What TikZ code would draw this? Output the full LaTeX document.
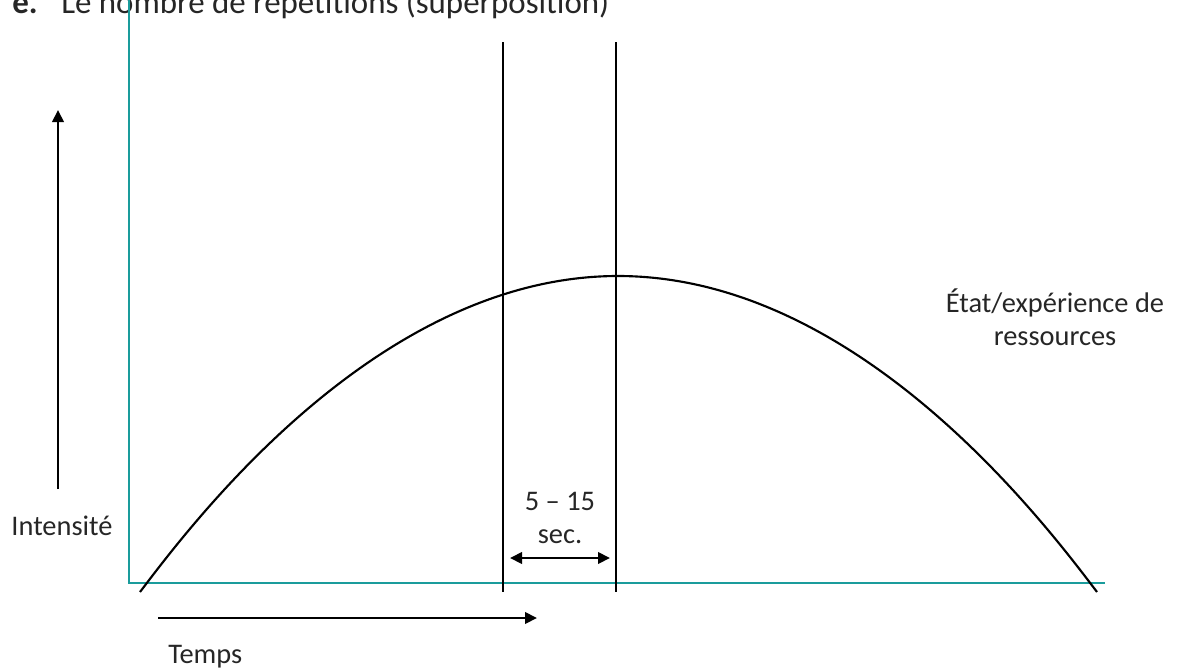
\documentclass[tikz,border=0pt]{standalone}
\usepackage{fontspec}
\setmainfont{Carlito}
\usetikzlibrary{arrows.meta}
\definecolor{axisteal}{HTML}{1A9C9C}
\definecolor{inkgray}{HTML}{262626}
\tikzset{>={Triangle[length=9pt,width=8.5pt]},
  every node/.style={font=\fontsize{21.3}{26}\selectfont,text=inkgray,inner sep=0pt},
  titletext/.style={font=\fontsize{24.7}{30}\selectfont},
  frameline/.style={draw=axisteal,line width=2.2pt},
  markline/.style={draw=black,line width=2.1pt},
  curve/.style={draw=black,line width=1.6pt},
  arrowline/.style={draw=black,line width=2.1pt}}
\begin{document}
\begin{tikzpicture}[x=0.75pt,y=-0.75pt]
\useasboundingbox (0,0) rectangle (1178,668);
% titre
\node[titletext,anchor=base west] (tnum) at (12,13) {\textbf{e.}};
\node[titletext,anchor=base west] (title) at (61,13) {Le nombre de répétitions (superposition)};
% cadre
\coordinate (ytop) at (129,-4);
\coordinate (orig) at (129,583);
\coordinate (xend) at (1105,583);
\draw[frameline] (ytop) -- (orig) -- (xend);
% courbe
\coordinate (cstart) at (140,592);
\coordinate (cpeak) at (618,276);
\coordinate (cend) at (1097,592);
\draw[curve] (cstart) parabola bend (cpeak) (cend);
% repères verticaux
\coordinate (m1top) at (503,42);\coordinate (m1bot) at (503,592);
\coordinate (m2top) at (616,42);\coordinate (m2bot) at (616,592);
\draw[markline] (m1top) -- (m1bot);
\draw[markline] (m2top) -- (m2bot);
\coordinate (dl) at (510,558);\coordinate (dr) at (610,558);
\draw[arrowline,<->] (dl) -- (dr);
\node[anchor=base] (dur) at (560,510) {5 – 15};
\node[anchor=base] (sec) at (560,543) {sec.};
% axes fléchés
\coordinate (ibot) at (58,489);\coordinate (itop) at (58,110);
\draw[arrowline,->] (ibot) -- (itop);
\node[anchor=base] (intens) at (62,535) {Intensité};
\coordinate (tl) at (158,618);\coordinate (tr) at (537,618);
\draw[arrowline,->] (tl) -- (tr);
\node[anchor=base west] (temps) at (168,663) {Temps};
% légende de la courbe
\node[anchor=base] (etat) at (1055,312) {État/expérience de};
\node[anchor=base] (ress) at (1055,345) {ressources};
\end{tikzpicture}
\end{document}
